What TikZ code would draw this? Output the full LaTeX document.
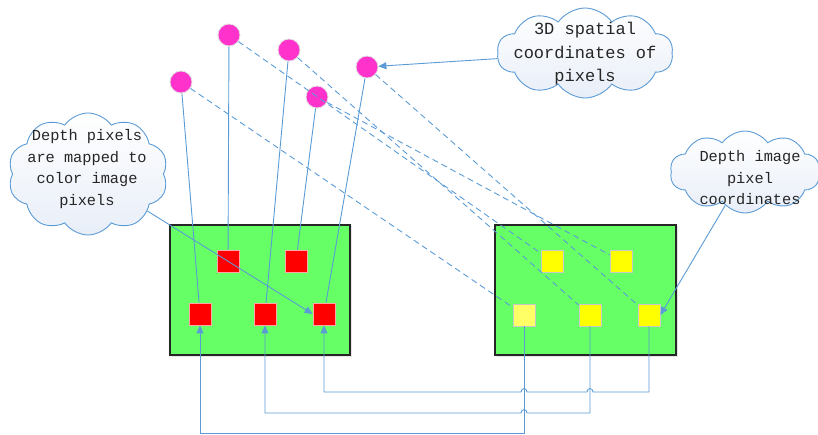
\documentclass[tikz,border=0pt]{standalone}
\usepackage{fontspec}
\setmonofont{Liberation Mono}
\usetikzlibrary{shapes.symbols,arrows.meta,shadows,calc}
\definecolor{lineblue}{HTML}{5B9BD5}
\definecolor{boxgreen}{HTML}{66FF66}
\definecolor{dotpink}{HTML}{FF33CC}
\definecolor{sqred}{HTML}{FF0000}
\definecolor{sqyellow}{HTML}{FFFF00}
\definecolor{sqlight}{HTML}{FFFF66}
\definecolor{cloudfill}{HTML}{E8EEF8}
\begin{document}
\begin{tikzpicture}[x=1pt,y=-1pt,
  conn/.style={draw=lineblue, line width=0.9pt},
  dashconn/.style={conn, dash pattern=on 6pt off 4pt},
  arr/.style={conn, -{Triangle[length=8pt,width=7pt]}},
  panel/.style={draw=black!85, line width=1.2pt, fill=boxgreen, minimum height=130pt, inner sep=0pt,
    drop shadow={opacity=0.2, shadow xshift=1.5pt, shadow yshift=-1.5pt}},
  redsq/.style={fill=sqred, draw=red!35, line width=0.8pt, minimum size=22pt, inner sep=0pt},
  yelsq/.style={fill=sqyellow, draw=black!22, line width=0.8pt, minimum size=22pt, inner sep=0pt},
  dot/.style={circle, fill=dotpink, draw=black!12, line width=0.8pt, minimum size=22pt, inner sep=0pt},
  callout/.style={cloud, cloud puffs=10, cloud puff arc=110, cloud ignores aspect, draw=lineblue,
    line width=0.9pt, top color=white, bottom color=cloudfill, inner sep=0pt},
  callouttext/.style={align=center, inner sep=0pt, text=black!85}
]
\useasboundingbox (0,0) rectangle (818,435);

% panels
\node[panel, minimum width=180pt] (lp) at (260,290) {};
\node[panel, minimum width=181pt] (rp) at (585.5,290) {};

% red squares
\node[redsq] (rt1) at (228,261) {};
\node[redsq] (rt2) at (296,261) {};
\node[redsq] (rb1) at (200,314) {};
\node[redsq] (rb2) at (265,314) {};
\node[redsq] (rb3) at (324,314) {};

% yellow squares
\node[yelsq] (yt1) at (552,261) {};
\node[yelsq] (yt2) at (621,261) {};
\node[yelsq, fill=sqlight] (yb1) at (524,315) {};
\node[yelsq] (yb2) at (590,315) {};
\node[yelsq] (yb3) at (649,315) {};

% dots
\node[dot] (d1) at (181,82) {};
\node[dot] (d2) at (229,35) {};
\node[dot] (d3) at (289,50) {};
\node[dot] (d4) at (317,97) {};
\node[dot] (d5) at (367,67) {};

% clouds
\node[callout, minimum width=160pt, minimum height=122pt] (c1) at (88,174) {};
\node[callouttext, font=\fontsize{15.3}{21.5}\selectfont\ttfamily] (t1) at (87,169)
  {Depth pixels\\are mapped to\\color image\\pixels};
\node[callout, minimum width=176pt, minimum height=90pt] (c2) at (585,53) {};
\node[callouttext, font=\fontsize{17}{23.5}\selectfont\ttfamily] (t2) at (585,54)
  {3D spatial\\coordinates of\\pixels};
\node[callout, minimum width=150pt, minimum height=82pt] (c3) at (745,172) {};
\node[callouttext, font=\fontsize{15.3}{21.5}\selectfont\ttfamily] (t3) at (750,178)
  {Depth image\\pixel\\coordinates};

% solid connectors dots -> red squares
\draw[conn] (d1) -- (rb1);
\draw[conn] (d2) -- (rt1);
\draw[conn] (d3) -- (rb2);
\draw[conn] (d4) -- (rt2);
\draw[conn] (d5) -- (rb3);

% dashed connectors dots -> yellow squares
\draw[dashconn] (d1) -- (yb1);
\draw[dashconn] (d2) -- (yt1);
\draw[dashconn] (d3) -- (yb2);
\draw[dashconn] (d4) -- (yt2);
\draw[dashconn] (d5) -- (yb3);

% callout arrows
\draw[arr] (c1) -- (rb3.west);
\draw[arr] (c2) -- (d5);
\draw[arr] (c3) -- (yb3.east);

% bottom connectors
\coordinate (rail1) at (0,392);
\coordinate (rail2) at (0,413);
\coordinate (rail3) at (0,433);
\draw[arr] (yb3.south) -- (yb3.south |- rail1)
  -- ($(yb2.south |- rail1)+(3,0)$) .. controls +(0,-4.5) and +(0,-4.5) .. ($(yb2.south |- rail1)+(-3,0)$)
  -- ($(yb1.south |- rail1)+(3,0)$) .. controls +(0,-4.5) and +(0,-4.5) .. ($(yb1.south |- rail1)+(-3,0)$)
  -- (rb3.south |- rail1) -- (rb3.south);
\draw[arr] (yb2.south) -- (yb2.south |- rail2)
  -- ($(yb1.south |- rail2)+(3,0)$) .. controls +(0,-4.5) and +(0,-4.5) .. ($(yb1.south |- rail2)+(-3,0)$)
  -- (rb2.south |- rail2) -- (rb2.south);
\draw[arr] (yb1.south) -- (yb1.south |- rail3) -- (rb1.south |- rail3) -- (rb1.south);
\end{tikzpicture}
\end{document}
